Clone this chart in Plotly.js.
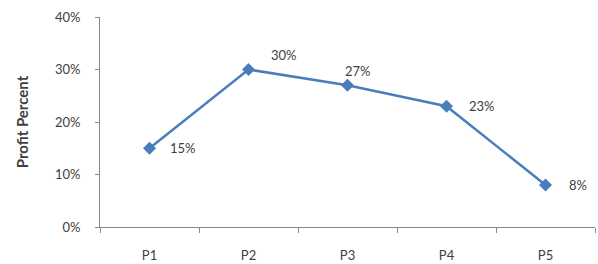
<!DOCTYPE html>
<html><head><meta charset="utf-8">
<script src="https://cdn.plot.ly/plotly-3.0.1.min.js"></script>
<style>html,body{margin:0;padding:0;background:#fff}#c{width:598px;height:264px}</style>
</head><body><div id="c"></div>
<script>
const categories = ["P1", "P2", "P3", "P4", "P5"];
const profit = [15, 30, 27, 23, 8];
const yTicks = [0, 10, 20, 30, 40];
// label offsets (px) from each marker
const labelDx = [18, 20, -5, 20, 21];
const labelDy = [0, 15, 14, 0, 0];
const labelAnchor = ["left", "left", "left", "left", "left"];

const FONT = "Lato, 'Open Sans', sans-serif";
const trace = {
  x: categories, y: profit, type: "scatter", mode: "lines+markers",
  line: {color: "#4a7ebb", width: 2.5},
  marker: {symbol: "diamond", size: 10, color: "#4a7ebb"},
  cliponaxis: false, hoverinfo: "none"
};
const annotations = categories.map((c, i) => ({
  x: c, y: profit[i], xref: "x", yref: "y", text: profit[i] + "%",
  showarrow: false, xanchor: labelAnchor[i], yanchor: "middle",
  xshift: labelDx[i], yshift: labelDy[i],
  font: {family: FONT, size: 13, color: "#404040"}
}));
const layout = {
  width: 598, height: 264,
  margin: {l: 100, r: 3, t: 17, b: 37},
  paper_bgcolor: "#fff", plot_bgcolor: "#fff",
  showlegend: false,
  font: {family: FONT, size: 13, color: "#404040"},
  annotations: annotations,
  xaxis: {
    type: "category", range: [-0.5, 4.5], showgrid: false, zeroline: false,
    showline: true, linecolor: "#888", linewidth: 1,
    ticks: "outside", tickson: "boundaries", ticklen: 5, tickcolor: "#888",
    ticklabelstandoff: 16,
    tickfont: {size: 13, color: "#404040"}
  },
  yaxis: {
    range: [0, 40], tickvals: yTicks, ticktext: yTicks.map(v => v + "%"),
    showgrid: false, zeroline: false,
    showline: true, linecolor: "#888", linewidth: 1,
    ticks: "outside", ticklen: 4, tickcolor: "#888",
    ticklabelstandoff: 12,
    tickfont: {size: 13, color: "#404040"},
    title: {text: "<b>Profit Percent</b>", font: {size: 15, color: "#404040"}, standoff: 22}
  }
};
Plotly.newPlot("c", [trace], layout, {staticPlot: true, displayModeBar: false});
</script></body></html>
